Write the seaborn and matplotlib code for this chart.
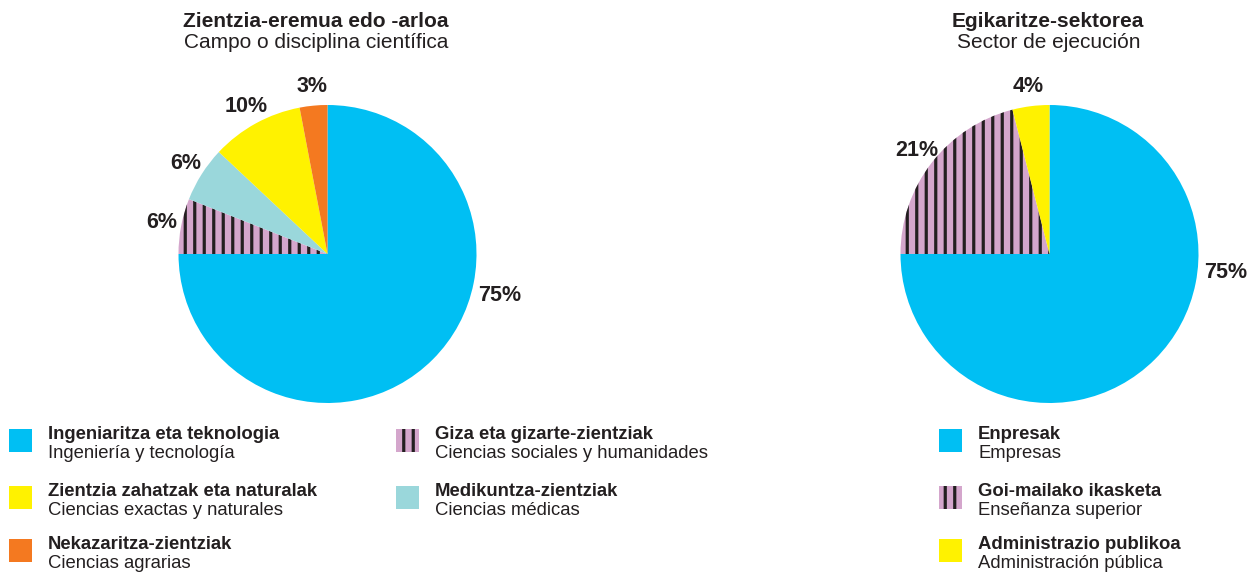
import matplotlib
matplotlib.use("Agg")
import matplotlib.pyplot as plt
import seaborn as sns
from matplotlib.patches import Rectangle
import numpy as np

# Campo o disciplina científica (clockwise from 12 o'clock)
field_eu = ["Ingeniaritza eta teknologia", "Giza eta gizarte-zientziak",
            "Medikuntza-zientziak", "Zientzia zahatzak eta naturalak",
            "Nekazaritza-zientziak"]
field_es = ["Ingeniería y tecnología", "Ciencias sociales y humanidades",
            "Ciencias médicas", "Ciencias exactas y naturales",
            "Ciencias agrarias"]
field_pct = [75, 6, 6, 10, 3]

# Sector de ejecución
sector_eu = ["Enpresak", "Goi-mailako ikasketa", "Administrazio publikoa"]
sector_es = ["Empresas", "Enseñanza superior", "Administración pública"]
sector_pct = [75, 21, 4]

BLUE = "#00BFF3"
LILAC = "#D4A6CC"
AQUA = "#9AD7DB"
YELLOW = "#FFF200"
ORANGE = "#F47920"
INK = "#231F20"

field_colors = [BLUE, LILAC, AQUA, YELLOW, ORANGE]
field_hatch = ["", "||", "", "", ""]
sector_colors = [BLUE, LILAC, YELLOW]
sector_hatch = ["", "||", ""]

# dpi chosen so the '||' hatch spacing matches the reference (~9.5 px)
W, H, DPI = 1259, 575, 114
S = 100 / DPI  # font sizes below are given as if at 100 dpi

sns.set_theme(style="white")
plt.rcParams["font.family"] = ["Liberation Sans", "DejaVu Sans"]
plt.rcParams["hatch.linewidth"] = 2.3 * S
plt.rcParams["hatch.color"] = INK

fig = plt.figure(figsize=(W / DPI, H / DPI), dpi=DPI)
fig.patch.set_facecolor("white")


def px(x, y):
    return x / W, 1 - y / H


def draw_pie(cx, cy, r, values, colors, hatches, big_angle):
    ax = fig.add_axes([(cx - r) / W, 1 - (cy + r) / H, 2 * r / W, 2 * r / H])
    wedges, _, autotexts = ax.pie(
        values, colors=colors, startangle=90, counterclock=False,
        autopct="%d%%", pctdistance=1.13,
        wedgeprops=dict(edgecolor=INK, linewidth=0),
        textprops=dict(fontsize=15.5 * S, fontweight="bold", color=INK))
    for w, h in zip(wedges, hatches):
        if h:
            w.set_hatch(h)
    # the big slice label sits beside the pie on the right
    a = np.deg2rad(big_angle)
    autotexts[0].set_position((1.19 * np.cos(a), 1.19 * np.sin(a)))
    ax.set_xlim(-1, 1)
    ax.set_ylim(-1, 1)
    ax.set_aspect("equal")
    ax.axis("off")
    return ax


draw_pie(327.5, 254, 149, field_pct, field_colors, field_hatch, -13.5)
draw_pie(1049.5, 254, 149, sector_pct, sector_colors, sector_hatch, -6)

# titles
title_kw = dict(ha="center", va="baseline", fontsize=15 * S, color=INK)
fig.text(*px(316, 27), "Zientzia-eremua edo -arloa", fontweight="bold", **title_kw)
fig.text(*px(316, 48), "Campo o disciplina científica", **title_kw)
fig.text(*px(1048, 27), "Egikaritze-sektorea", fontweight="bold", **title_kw)
fig.text(*px(1049, 48), "Sector de ejecución", **title_kw)


def legend_item(x, y, color, hatch, eu, es):
    # x, y: top-left of the swatch in pixels
    sx, sy = px(x, y + 23)
    fig.add_artist(Rectangle((sx, sy), 23 / W, 23 / H, transform=fig.transFigure,
                             facecolor=color, edgecolor=INK, linewidth=0,
                             hatch=hatch))
    fig.text(*px(x + 39, y + 10), eu, ha="left", va="baseline",
             fontsize=13.3 * S, fontweight="bold", color=INK)
    fig.text(*px(x + 39, y + 29), es, ha="left", va="baseline",
             fontsize=13.3 * S, color=INK)


rows = [429, 486, 539]
left_cols = [(9, rows[0], 0), (9, rows[1], 3), (9, rows[2], 4),
             (396, rows[0], 1), (396, rows[1], 2)]
for x, y, i in left_cols:
    legend_item(x, y, field_colors[i], field_hatch[i], field_eu[i], field_es[i])

for i, y in enumerate(rows):
    legend_item(939, y, sector_colors[i], sector_hatch[i], sector_eu[i], sector_es[i])

fig.savefig("out.png", dpi=DPI, facecolor="white")
